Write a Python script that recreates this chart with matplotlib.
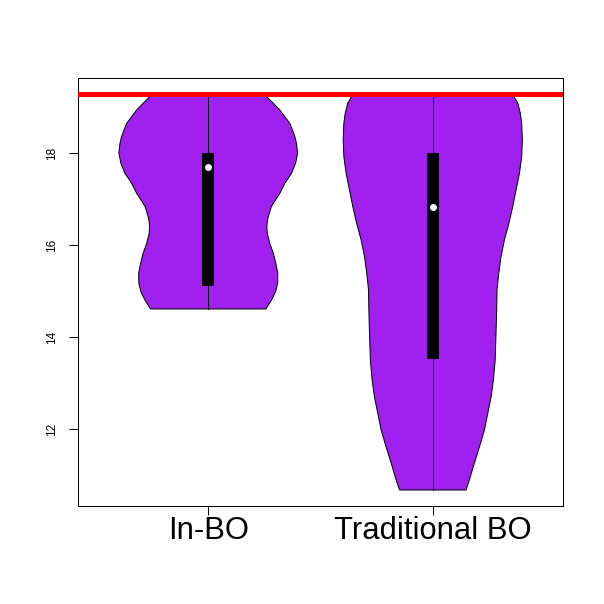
import numpy as np
import matplotlib
matplotlib.use("Agg")
import matplotlib.pyplot as plt

plt.rcParams['font.family'] = ['Liberation Sans', 'DejaVu Sans']

# values
groups = ['In-BO', 'Traditional BO']
reference_value = 19.276

# violin outline: y levels and half-widths (in x units)
inbo_y = [19.27, 19.224, 19.080, 18.935, 18.789, 18.646, 18.500, 18.354, 18.211,
          17.993, 17.776, 17.559, 17.341, 17.124, 16.907, 16.833, 16.689, 16.543,
          16.398, 16.254, 16.037, 15.820, 15.602, 15.385, 15.167, 14.985, 14.804,
          14.659, 14.609]
inbo_w = [0.252, 0.260, 0.290, 0.319, 0.341, 0.363, 0.375, 0.386, 0.393,
          0.398, 0.389, 0.371, 0.341, 0.319, 0.290, 0.281, 0.272, 0.264,
          0.261, 0.263, 0.274, 0.290, 0.301, 0.310, 0.309, 0.300, 0.282,
          0.263, 0.257]
trad_y = [19.27, 19.224, 19.080, 18.863, 18.646, 18.283, 17.920, 17.559, 17.196,
          16.833, 16.472, 16.109, 15.746, 15.385, 15.022, 14.659, 14.298, 13.500,
          13.065, 12.702, 12.341, 11.978, 11.615, 11.254, 10.891, 10.674]
trad_w = [0.355, 0.361, 0.379, 0.390, 0.396, 0.399, 0.396, 0.386, 0.371,
          0.356, 0.339, 0.319, 0.304, 0.294, 0.286, 0.285, 0.283, 0.278,
          0.270, 0.260, 0.245, 0.230, 0.208, 0.185, 0.163, 0.148]

# box stats: min, q1, median, q3, max
inbo_stats = [14.609, 15.115, 17.70, 18.00, 19.27]
trad_stats = [10.674, 13.515, 16.82, 18.00, 19.27]

violins = [(inbo_y, inbo_w, inbo_stats), (trad_y, trad_w, trad_stats)]

fig = plt.figure(figsize=(6.04, 6.04), dpi=100)
ax = fig.add_axes([78 / 604, 98 / 604, 485 / 604, 428 / 604])

px = 72 / 100  # one pixel in points
box_w = 0.053

for i, (vy, vw, st) in enumerate(violins):
    c = i + 1
    vy = np.array(vy)
    vw = np.array(vw)
    xs = np.concatenate([c - vw, (c + vw)[::-1]])
    ys = np.concatenate([vy, vy[::-1]])
    ax.fill(xs, ys, facecolor='#A020F0', edgecolor='black', linewidth=px, zorder=2)
    ax.plot([c, c], [st[0], st[4]], color='black', linewidth=px, zorder=3)
    ax.add_patch(plt.Rectangle((c - box_w / 2, st[1]), box_w, st[3] - st[1],
                               facecolor='black', edgecolor='black', linewidth=0, zorder=4))
    ax.plot(c, st[2], 'o', color='white', markersize=5, markeredgewidth=0, zorder=5)

ax.axhline(reference_value, color='red', linewidth=5 * px, zorder=6)

ax.set_xlim(0.42, 2.58)
ax.set_ylim(10.326, 19.63)
ax.set_xticks([1, 2])
ax.set_xticklabels(groups, fontsize=22.3)
ax.set_yticks([12, 14, 16, 18])
ax.set_yticklabels(['12', '14', '16', '18'], fontsize=8.6, rotation=90, va='center')
ax.tick_params(axis='both', length=9 * px, width=px, color='black')
ax.tick_params(axis='x', pad=1)
ax.tick_params(axis='y', pad=8)
for s in ax.spines.values():
    s.set_linewidth(px)

fig.savefig('out.png', dpi=100)
